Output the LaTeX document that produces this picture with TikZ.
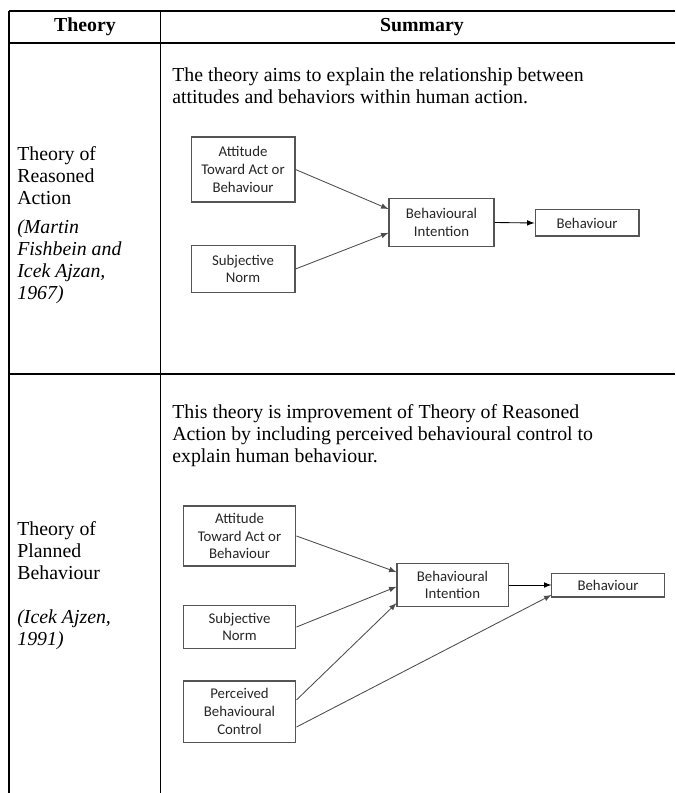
\documentclass[tikz,border=0pt]{standalone}
\usepackage{fontspec}
\setmainfont{Liberation Serif}
\newfontfamily\boxfont{Carlito}
\definecolor{boxgray}{HTML}{555555}
\definecolor{arrowgray}{HTML}{4D4D4D}

\begin{document}
\begin{tikzpicture}[x=0.58pt,y=-0.58pt,
	box/.style={draw=boxgray,line width=0.6pt,align=center,inner sep=0pt,text=black!85,
		font=\boxfont\fontsize{8.6}{10.3}\selectfont},
	link/.style={arrowgray,line width=0.5pt,-latex},
	body/.style={anchor=north west,align=left,inner sep=0pt,font=\fontsize{11.5}{12.8}\selectfont},
	cite/.style={body,font=\itshape\fontsize{11.5}{12.8}\selectfont}]
	\useasboundingbox (0,0) rectangle (675,793);
	
	% Table rules
	\draw[line width=0.6pt] (9,11) -- (675,11);
	\draw[line width=0.6pt] (9,43) -- (675,43);
	\draw[line width=0.6pt] (9,374) -- (675,374);
	\draw[line width=0.6pt] (9,11) -- (9,793);
	\draw[line width=0.6pt] (160.5,11) -- (160.5,793);
	
	% Header
	\node[font=\bfseries\fontsize{11.5}{14}\selectfont] (hdtheory) at (85,27) {Theory};
	\node[font=\bfseries\fontsize{11.5}{14}\selectfont] (hdsummary) at (422,27) {Summary};
	
	% Row 1: reasoned action
	\node[body] (tra) at (17,146) {Theory of\\Reasoned\\Action};
	\node[cite] (traref) at (17,219) {(Martin\\Fishbein and\\Icek Ajzan,\\1967)};
	\node[body] (trasum) at (172,67.5) {The theory aims to explain the relationship between\\attitudes and behaviors within human action.};
	
	\node[box,minimum width=60.3pt,minimum height=37.7pt] (att1) at (243,169.5) {Attitude\\Toward Act or\\Behaviour};
	\node[box,minimum width=60.3pt,minimum height=26.7pt] (sn1) at (243,269) {Subjective\\Norm};
	\node[box,minimum width=60.9pt,minimum height=27.3pt] (bi1) at (441.5,222.5) {Behavioural\\Intention};
	\node[box,minimum width=60.3pt,minimum height=15.1pt] (beh1) at (587,223) {Behaviour};
	
	\draw[link] (att1.east) -- ([yshift=7.8pt]bi1.west);
	\draw[link] (sn1.east) -- ([yshift=-6pt]bi1.west);
	\draw[link,black] (bi1.east) -- (beh1.west);
	
	% Row 2: planned behaviour
	\node[body] (tpb) at (17,521.5) {Theory of\\Planned\\Behaviour};
	\node[cite] (tpbref) at (17,609.5) {(Icek Ajzen,\\1991)};
	\node[body] (tpbsum) at (172,404.5) {This theory is improvement of Theory of Reasoned\\Action by including perceived behavioural control to\\explain human behaviour.};
	
	\node[box,minimum width=65.5pt,minimum height=34.8pt] (att2) at (239.5,536) {Attitude\\Toward Act or\\Behaviour};
	\node[box,minimum width=65.5pt,minimum height=24.4pt] (sn2) at (239.5,627) {Subjective\\Norm};
	\node[box,minimum width=65.5pt,minimum height=35.4pt] (pbc2) at (239.5,711.5) {Perceived\\Behavioural\\Control};
	\node[box,minimum width=64.4pt,minimum height=24.4pt] (bi2) at (452.5,585) {Behavioural\\Intention};
	\node[box,minimum width=65pt,minimum height=13.9pt] (beh2) at (608,585) {Behaviour};
	
	\draw[link] (att2.east) -- ([yshift=7.5pt]bi2.west);
	\draw[link] (sn2.east) -- ([yshift=-1pt]bi2.west);
	\draw[link] ([yshift=6.7pt]pbc2.east) -- ([yshift=2pt]bi2.south west);
	\draw[link] ([yshift=-9pt]pbc2.east) -- ([yshift=-5.8pt]beh2.west);
	\draw[link,black] (bi2.east) -- (beh2.west);
\end{tikzpicture}
\end{document}
